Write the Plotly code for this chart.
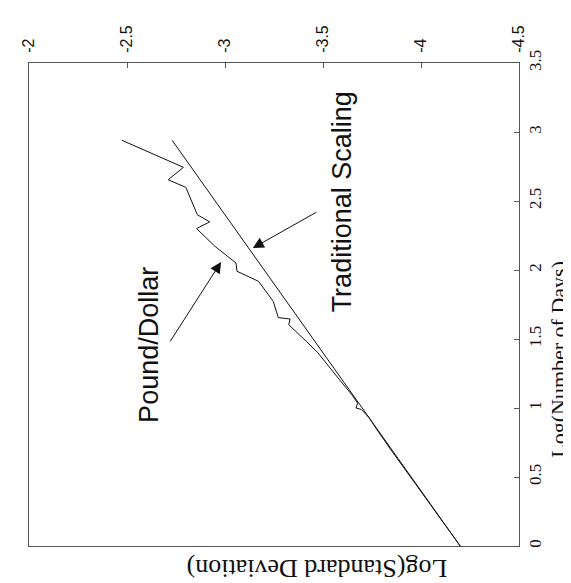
import plotly.graph_objects as go

# Log(Number of Days) and Log(Standard Deviation) for the Pound/Dollar series
pd_log_days = [0.00, 0.20, 0.35, 0.50, 0.71, 0.85, 0.93, 0.99, 1.00, 1.035, 1.10,
               1.205, 1.30, 1.40, 1.483, 1.604, 1.645, 1.655, 1.773, 1.918,
               1.991, 2.051, 2.17, 2.30, 2.349, 2.40, 2.599, 2.654, 2.744, 2.94]
pd_log_std = [-4.200, -4.098, -4.025, -3.948, -3.840, -3.772, -3.735, -3.695,
              -3.668, -3.677, -3.645, -3.584, -3.530, -3.474, -3.415, -3.325,
              -3.332, -3.272, -3.246, -3.171, -3.061, -3.056, -2.950, -2.855,
              -2.922, -2.859, -2.800, -2.710, -2.788, -2.474]

# Traditional (square-root-of-time) scaling line
trad_log_days = [0.00, 2.94]
trad_log_std = [-4.200, -2.730]

x_ticks = [-2, -2.5, -3, -3.5, -4, -4.5]
x_ticktext = ["-2", "-2.5", "-3", "-3.5", "-4", "-4.5"]
y_ticks = [0, 0.5, 1, 1.5, 2, 2.5, 3, 3.5]
y_ticktext = ["0", "0.5", "1", "1.5", "2", "2.5", "3", "3.5"]

fig = go.Figure()
fig.add_trace(go.Scatter(x=trad_log_std, y=trad_log_days, mode="lines",
                         line=dict(color="#111", width=1), name="Traditional Scaling",
                         showlegend=False))
fig.add_trace(go.Scatter(x=pd_log_std, y=pd_log_days, mode="lines",
                         line=dict(color="#111", width=1), name="Pound/Dollar",
                         showlegend=False))

axis_line = dict(showline=True, linecolor="#555", linewidth=1, mirror=True,
                 showgrid=False, zeroline=False, ticks="inside", ticklen=5,
                 tickcolor="#555")

fig.update_layout(
    width=571, height=583,
    margin=dict(l=17, r=60, t=55, b=45),
    paper_bgcolor="white", plot_bgcolor="white",
    xaxis=dict(range=[-2, -4.5], side="top", tickvals=x_ticks, ticktext=x_ticktext,
               tickangle=-90, tickfont=dict(family="Liberation Sans", size=16, color="#111"),
               ticklabelstandoff=6, **axis_line),
    yaxis=dict(range=[0, 3.5], side="right", tickvals=y_ticks, ticktext=y_ticktext,
               tickangle=-90, tickfont=dict(family="Liberation Serif", size=17, color="#111"),
               ticklabelstandoff=1, **axis_line),
)

fig.add_annotation(text="Log(Number of Days)", xref="paper", yref="paper",
                   x=1.08, y=0.386, xanchor="center", yanchor="middle",
                   showarrow=False, textangle=-90,
                   font=dict(family="Liberation Serif", size=22, color="#111"))
fig.add_annotation(text="Log(Standard Deviation)", xref="paper", yref="paper",
                   x=0.587, y=-0.048, xanchor="center", yanchor="middle",
                   showarrow=False, textangle=180,
                   font=dict(family="Liberation Serif", size=26, color="#111"))

fig.add_annotation(text="Pound/Dollar", x=-2.612, y=1.457, showarrow=False,
                   xanchor="center", yanchor="middle", textangle=-90,
                   font=dict(family="Liberation Sans", size=27, color="#111"))
fig.add_annotation(text="Traditional Scaling", x=-3.599, y=2.493, showarrow=False,
                   xanchor="center", yanchor="middle", textangle=-90,
                   font=dict(family="Liberation Sans", size=27, color="#111"))

fig.add_annotation(x=-2.980, y=2.058, ax=-2.715, ay=1.471, axref="x", ayref="y",
                   text="", showarrow=True, arrowhead=2, arrowsize=2.2, arrowwidth=1,
                   arrowcolor="#111")
fig.add_annotation(x=-3.142, y=2.159, ax=-3.474, ay=2.425, axref="x", ayref="y",
                   text="", showarrow=True, arrowhead=2, arrowsize=2.2, arrowwidth=1,
                   arrowcolor="#111")

fig.write_html("out.html")
